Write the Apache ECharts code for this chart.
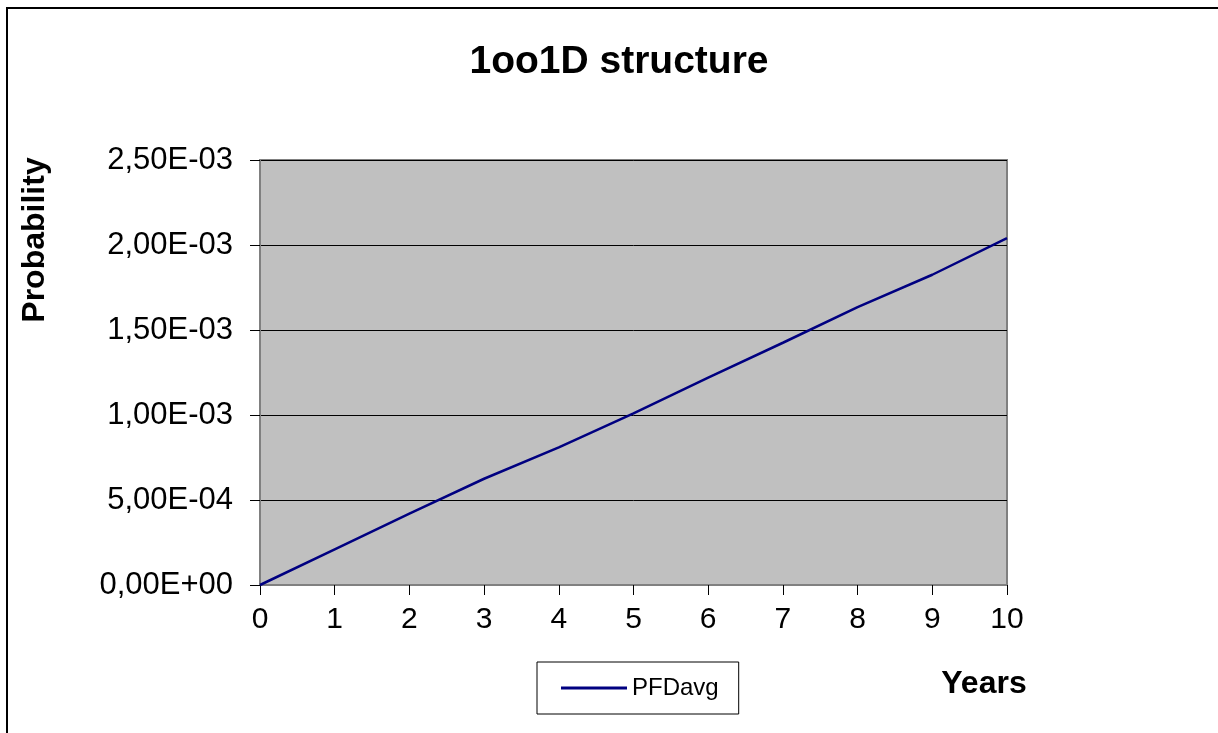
<!DOCTYPE html>
<html>
<head>
<meta charset="utf-8">
<script src="https://cdn.jsdelivr.net/npm/echarts@6/dist/echarts.min.js"></script>
<style>
  html, body { margin: 0; padding: 0; background: #fff; }
  #chart { width: 1218px; height: 733px; }
</style>
</head>
<body>
<div id="chart"></div>
<script>
const years = [0, 1, 2, 3, 4, 5, 6, 7, 8, 9, 10];
const pfdAvg = [0, 2.1e-4, 4.2e-4, 6.25e-4, 8.1e-4, 1.01e-3, 1.22e-3, 1.425e-3, 1.635e-3, 1.825e-3, 2.04e-3];
const seriesName = 'PFDavg';

const font = "'Liberation Sans', Arial, sans-serif";

// Excel-style scientific labels: 2,50E-03
function sci(v) {
  const [m, e] = v.toExponential(2).split('e');
  const n = Number(e);
  const exp = (n < 0 ? '-' : '+') + String(Math.abs(n)).padStart(2, '0');
  return m.replace('.', ',') + 'E' + exp;
}

const chart = echarts.init(document.getElementById('chart'));

chart.setOption({
  animation: false,
  title: {
    text: '1oo1D structure',
    left: 614,
    top: 38,
    textAlign: 'center',
    textStyle: { fontFamily: font, fontSize: 39, fontWeight: 'bold', color: '#000' }
  },
  grid: {
    left: 260,
    top: 160,
    right: 211,
    bottom: 148,
    show: true,
    backgroundColor: '#c0c0c0',
    borderColor: '#808080',
    borderWidth: 2
  },
  legend: {
    data: [seriesName],
    left: 537,
    top: 662,
    padding: [14, 20, 14, 24],
    backgroundColor: '#fff',
    borderColor: '#000',
    borderWidth: 1,
    icon: 'rect',
    itemWidth: 66,
    itemHeight: 3,
    textStyle: { fontFamily: font, fontSize: 24, color: '#000' }
  },
  xAxis: {
    type: 'value',
    min: 0,
    max: 10,
    interval: 1,
    axisLine: { lineStyle: { color: '#808080', width: 2 } },
    axisTick: { length: 10, lineStyle: { color: '#000' } },
    axisLabel: { margin: 20, fontFamily: font, fontSize: 30, color: '#000' },
    splitLine: { show: false }
  },
  yAxis: {
    type: 'value',
    min: 0,
    max: 2.5e-3,
    interval: 5e-4,
    axisLine: { show: true, lineStyle: { color: '#808080', width: 2 } },
    axisTick: { show: true, length: 10, lineStyle: { color: '#000' } },
    axisLabel: { margin: 27, fontFamily: font, fontSize: 31, color: '#000', formatter: sci },
    splitLine: { lineStyle: { color: '#000', width: 1 } }
  },
  graphic: [
    {
      // outer chart frame: only the top and left edges are inside the picture
      type: 'polyline',
      silent: true,
      shape: { points: [[7, 733], [7, 8], [1218, 8]] },
      style: { fill: 'none', stroke: '#000', lineWidth: 2 }
    },
    {
      type: 'text',
      x: 35,
      y: 240,
      rotation: Math.PI / 2,
      style: {
        text: 'Probability',
        font: "bold 32px 'Liberation Sans', Arial, sans-serif",
        fill: '#000',
        textAlign: 'center',
        textVerticalAlign: 'middle'
      }
    },
    {
      type: 'text',
      x: 984,
      y: 684,
      style: {
        text: 'Years',
        font: "bold 32px 'Liberation Sans', Arial, sans-serif",
        fill: '#000',
        textAlign: 'center',
        textVerticalAlign: 'middle'
      }
    }
  ],
  series: [
    {
      name: seriesName,
      type: 'line',
      data: years.map((y, i) => [y, pfdAvg[i]]),
      symbol: 'none',
      color: '#000080',
      lineStyle: { color: '#000080', width: 2.5 }
    }
  ]
});
</script>
</body>
</html>
